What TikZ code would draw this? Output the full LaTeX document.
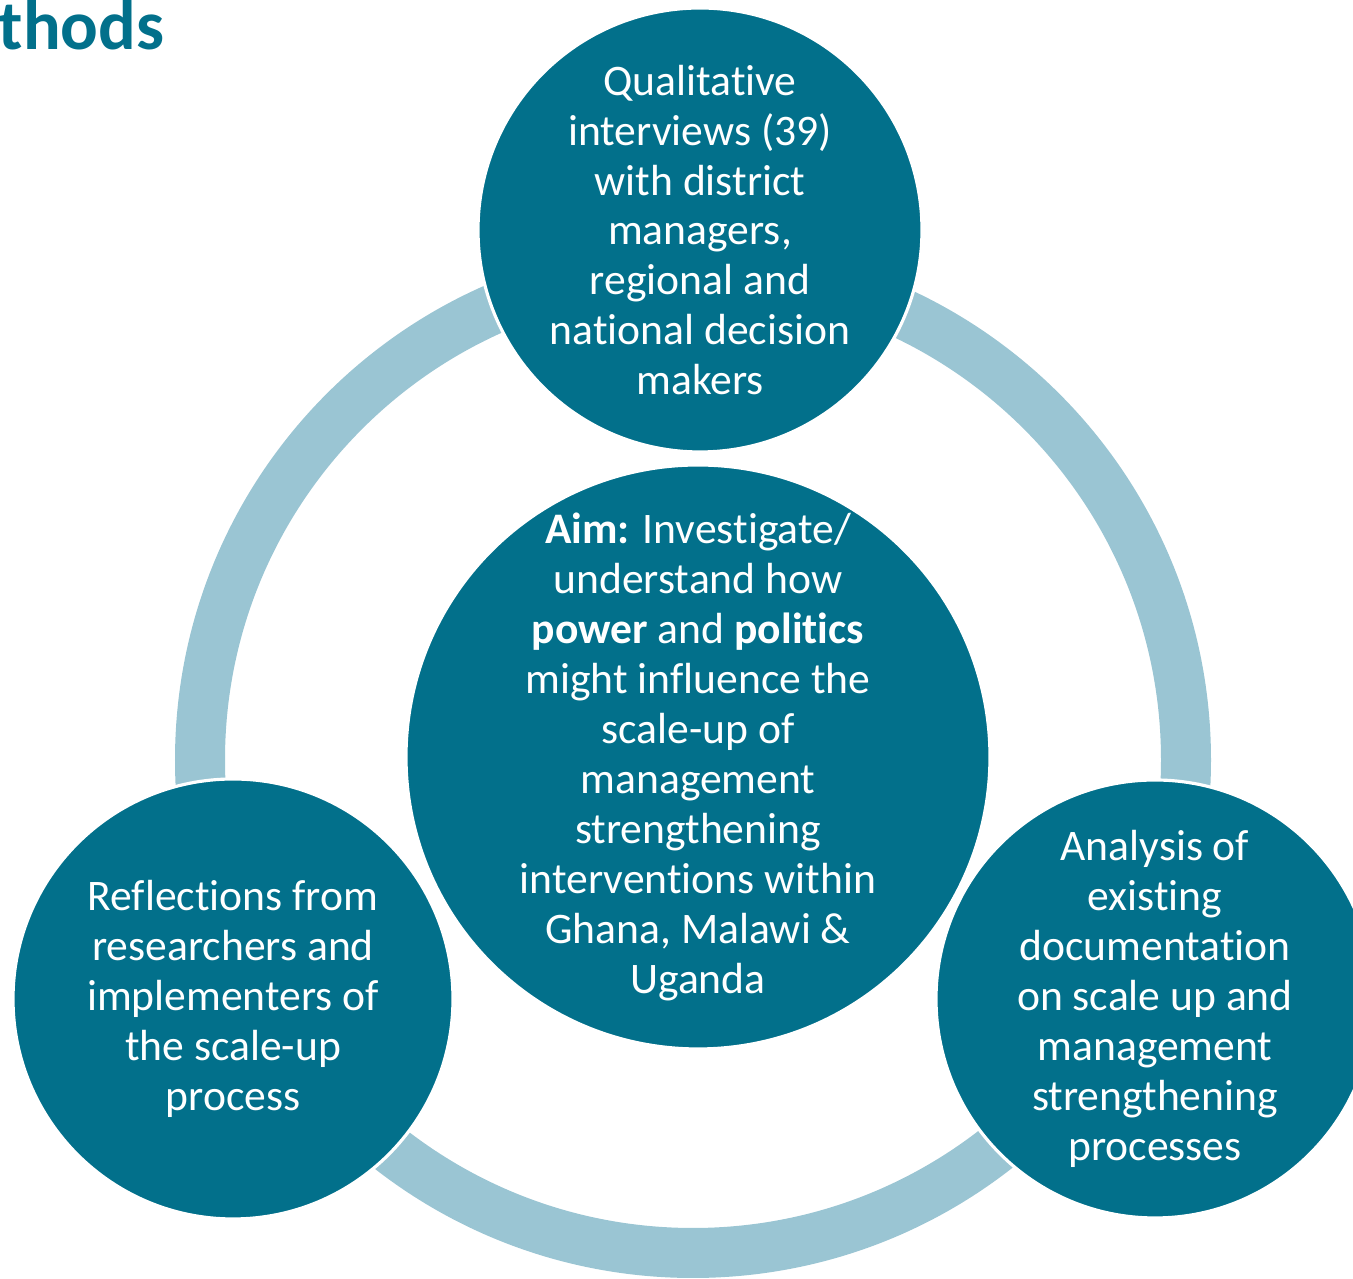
\documentclass[tikz,border=0pt]{standalone}
\usepackage{fontspec}
\setmainfont{Carlito}[Ligatures={NoCommon,NoContextual}, Contextuals=NoAlternate, RawFeature=-liga]
\usepackage{xcolor}
\usepackage{tikz}
\usetikzlibrary{positioning}
\definecolor{petrol}{RGB}{2,112,139}
\definecolor{mist}{RGB}{154,197,211}
\tikzset{
  ring/.style={circle, draw=mist, line width=5mm, inner sep=0pt},
  disc/.style={circle, fill=petrol, draw=white, line width=0.9pt, inner sep=0pt},
  txt/.style={align=center, inner sep=0pt, text=white, font=\fontsize{12.4}{14.2}\selectfont},
  heading/.style={anchor=base west, inner sep=0pt, text=petrol, font=\fontsize{20}{24}\selectfont\bfseries}
}

\begin{document}
\begin{tikzpicture}
\useasboundingbox (0,0) rectangle (13.53,12.79);
\node[ring, minimum size=98.6mm] (cycle) at (6.93,5.19) {};
\node[heading] (title) at (-0.02,12.29) {thods};
% discs first, their texts as centred labels
\node[disc, minimum size=44.4mm, label={[txt]center:{Qualitative\\ interviews (39)\\ with district\\ managers,\\ regional and\\ national decision\\ makers}}] (interviews) at (7.00,10.49) {};
\node[disc, minimum size=58.4mm, label={[txt]center:{\textbf{Aim:} Investigate/\\ understand how\\ \textbf{power} and \textbf{politics}\\ might influence the\\ scale-up of\\ management\\ strengthening\\ interventions within\\ Ghana, Malawi \&\\ Uganda}}] (aim) at (6.98,5.22) {};
\node[disc, minimum size=44mm, label={[txt]center:{Reflections from\\ researchers and\\ implementers of\\ the scale-up\\ process}}] (reflections) at (2.33,2.80) {};
\node[disc, minimum size=43.8mm, label={[txt]center:{Analysis of\\ existing\\ documentation\\ on scale up and\\ management\\ strengthening\\ processes}}] (documents) at (11.55,2.80) {};
\end{tikzpicture}
\end{document}
